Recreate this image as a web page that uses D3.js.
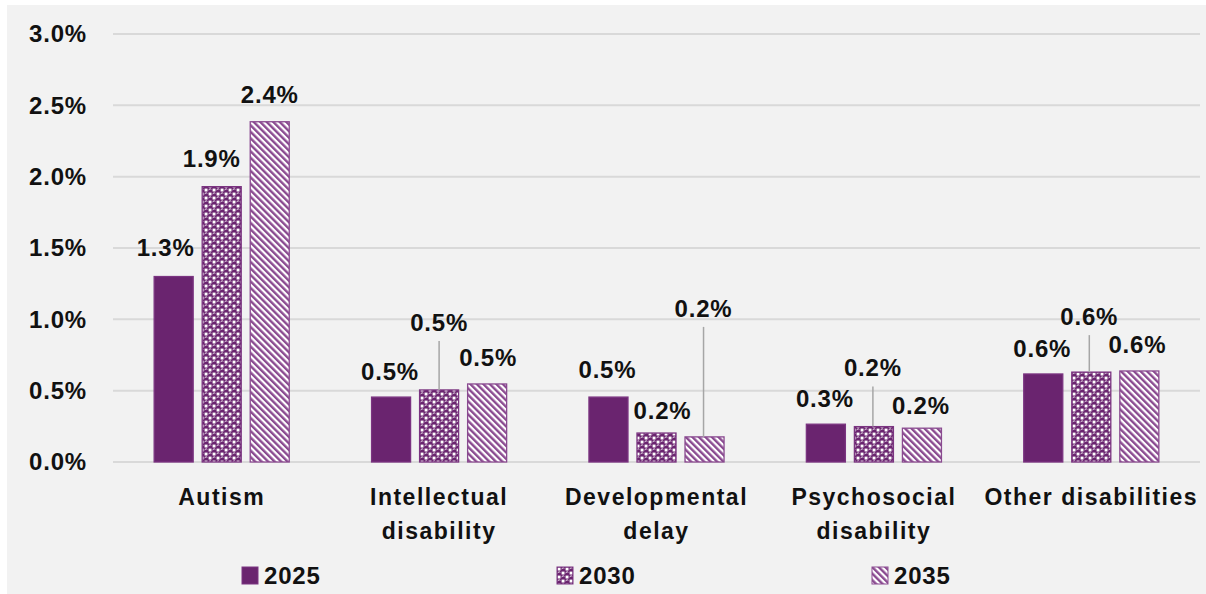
<!DOCTYPE html>
<html>
<head>
<meta charset="utf-8">
<script src="https://cdn.jsdelivr.net/npm/d3@7"></script>
<style>
  body { margin: 0; background: #ffffff; }
  svg { display: block; }
  text { font-family: "Liberation Sans", Arial, sans-serif; font-weight: bold; fill: #111; }
</style>
</head>
<body>
<svg id="chart" width="1206" height="594"></svg>
<script>
// Disability categories (x axis)
const categories = ["Autism", "Intellectual disability", "Developmental delay", "Psychosocial disability", "Other disabilities"];
// Projection years (series)
const years = ["2025", "2030", "2035"];
// Share of population, in percent, per category
const values2025 = [1.30, 0.455, 0.455, 0.265, 0.617];
const values2030 = [1.93, 0.505, 0.203, 0.248, 0.630];
const values2035 = [2.385, 0.547, 0.176, 0.237, 0.638];
// Y axis ticks (percent)
const yTicks = [0, 0.5, 1.0, 1.5, 2.0, 2.5, 3.0];

const seriesValues = [values2025, values2030, values2035];

// Label placement: [dx, height of label centre above bar top, callout line?]
const labelPlacement = [
  [[-8, 29, false], [-10, 28, false], [0, 27, false]],
  [[-1, 26, false], [0, 68, true], [1, 27, false]],
  [[-1, 28, false], [6, 23, false], [-1, 129, true]],
  [[-1, 26, false], [-1, 59, true], [-1, 23, false]],
  [[-1, 26, false], [-2, 56, true], [-2, 27, false]]
];

const purple = "#6a246f";
const purpleLight = "#8a4a90";

const svg = d3.select("#chart");

// panel background
svg.append("rect").attr("x", 7).attr("y", 5).attr("width", 1199).attr("height", 589).attr("fill", "#f2f2f2");

// fill patterns
const defs = svg.append("defs");
const p30 = defs.append("pattern").attr("id", "pat2030").attr("patternUnits", "userSpaceOnUse")
  .attr("width", 8).attr("height", 8);
p30.append("rect").attr("width", 8).attr("height", 8).attr("fill", purple);
p30.append("rect").attr("x", 0.6).attr("y", 0.6).attr("width", 2.9).attr("height", 2.9).attr("fill", "#fff");
p30.append("rect").attr("x", 4.6).attr("y", 4.6).attr("width", 2.9).attr("height", 2.9).attr("fill", "#fff");
p30.append("path").attr("d", "M4.7,2.2 a1.6,1.6 0 0 1 2.6,-0.9").attr("stroke", "#fff").attr("stroke-width", 0.9).attr("fill", "none");
p30.append("path").attr("d", "M0.7,6.2 a1.6,1.6 0 0 1 2.6,-0.9").attr("stroke", "#fff").attr("stroke-width", 0.9).attr("fill", "none");

const p35 = defs.append("pattern").attr("id", "pat2035").attr("patternUnits", "userSpaceOnUse")
  .attr("width", 4.6).attr("height", 4.6).attr("patternTransform", "rotate(-45)");
p35.append("rect").attr("width", 4.6).attr("height", 4.6).attr("fill", "#fff");
p35.append("rect").attr("width", 2.4).attr("height", 4.6).attr("fill", purpleLight);

const fills = ["solid", "url(#pat2030)", "url(#pat2035)"];
const fillFor = i => i === 0 ? purple : fills[i];
const strokeFor = i => i === 2 ? purpleLight : "#7b3481";

// scales
const x0 = d3.scaleBand().domain(categories).range([113, 1200]).paddingInner(0.374).paddingOuter(0.187);
const x1 = d3.scaleBand().domain(years).range([0, x0.bandwidth()]).paddingInner(1 / 6).paddingOuter(0);
const y = d3.scaleLinear().domain([0, 3]).range([462, 34]);

// gridlines
svg.append("g").selectAll("line").data(yTicks).join("line")
  .attr("x1", 113).attr("x2", 1200)
  .attr("y1", d => y(d)).attr("y2", d => y(d))
  .attr("stroke", "#d9d9d9").attr("stroke-width", 2);

// y axis labels
const yAxis = d3.axisLeft(y).tickValues(yTicks).tickSize(0).tickPadding(0)
  .tickFormat(d => d3.format(".1f")(d) + "%");
const gy = svg.append("g").attr("transform", "translate(87,0)").call(yAxis);
gy.select(".domain").remove();
gy.selectAll("text").attr("font-size", 24).attr("letter-spacing", "0.8px")
  .attr("font-family", "'Liberation Sans', Arial, sans-serif").attr("font-weight", "bold").attr("fill", "#111");

// bars
const flat = [];
categories.forEach((c, ci) => years.forEach((yr, si) => flat.push({ c, ci, yr, si, v: seriesValues[si][ci] })));

svg.append("g").selectAll("rect").data(flat).join("rect")
  .attr("x", d => x0(d.c) + x1(d.yr) + 0.5)
  .attr("y", d => y(d.v))
  .attr("width", x1.bandwidth() - 1)
  .attr("height", d => y(0) - y(d.v))
  .attr("fill", d => fillFor(d.si))
  .attr("stroke", d => strokeFor(d.si))
  .attr("stroke-width", 1.3);

// value labels and callout lines
const labelG = svg.append("g");
flat.forEach(d => {
  const [dx, up, callout] = labelPlacement[d.ci][d.si];
  const cx = x0(d.c) + x1(d.yr) + x1.bandwidth() / 2 + dx;
  const top = y(d.v);
  const cy = top - up;
  if (callout) {
    labelG.append("line").attr("x1", cx).attr("x2", cx).attr("y1", cy + 19).attr("y2", top)
      .attr("stroke", "#a6a6a6").attr("stroke-width", 1.5);
  }
  labelG.append("text").attr("x", cx).attr("y", cy).attr("dy", "0.36em")
    .attr("text-anchor", "middle").attr("font-size", 24).attr("letter-spacing", "0.8px")
    .text(d3.format(".1f")(d.v) + "%");
});

// category labels, wrapped to the band width
const catG = svg.append("g");
const catText = (x, yy, s) => catG.append("text").attr("x", x).attr("y", yy).attr("dy", "0.36em")
  .attr("text-anchor", "middle").attr("font-size", 23).attr("letter-spacing", "1.5px").text(s);
categories.forEach(c => {
  const cx = x0(c) + x0.bandwidth() / 2;
  const t = catText(cx, 497, c);
  if (t.node().getComputedTextLength() > x0.step()) {
    const words = c.split(" ");
    t.text(words[0]);
    catText(cx, 531, words.slice(1).join(" "));
  }
});

// legend
const legendX = d3.scalePoint().domain(years).range([242, 872]);
const lg = svg.append("g").selectAll("g").data(years).join("g")
  .attr("transform", d => `translate(${legendX(d)},575)`);
lg.append("rect").attr("x", 0).attr("y", -8).attr("width", 16).attr("height", 17)
  .attr("fill", (d, i) => fillFor(i)).attr("stroke", (d, i) => strokeFor(i)).attr("stroke-width", 1);
lg.append("text").attr("x", 22).attr("dy", "0.36em").attr("font-size", 24).attr("letter-spacing", "0.8px")
  .text(d => d);
</script>
</body>
</html>
